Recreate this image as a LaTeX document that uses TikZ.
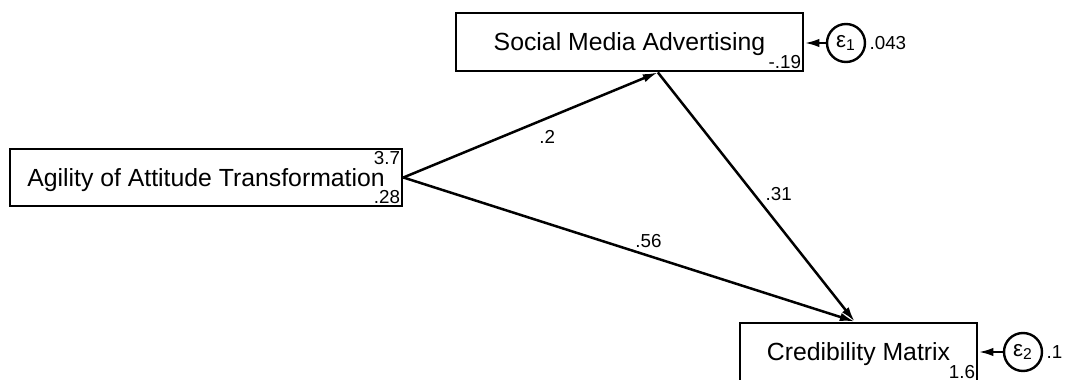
\documentclass[tikz,border=0pt]{standalone}
\usepackage{fontspec}
\setmainfont{Liberation Sans}
\usetikzlibrary{arrows.meta}

\tikzset{
  var/.style={draw, rectangle, line width=1.4pt, inner sep=0pt, minimum height=29pt, text depth=0pt, font=\fontsize{12.4}{14}\selectfont},
  err/.style={draw, circle, line width=1.2pt, inner sep=0pt, minimum size=19pt, font=\fontsize{11.2}{13}\selectfont},
  num/.style={inner sep=1.5pt, font=\fontsize{9.4}{11}\selectfont},
  path/.style={->, line width=1.25pt}
}

\begin{document}
\begin{tikzpicture}[x=0.5pt,y=-0.5pt,>={Latex[length=7.5pt,width=4.2pt]}]
	\useasboundingbox (0,0) rectangle (1078,380);
	% Draw the observed variables
	\node[var, minimum width=196pt, minimum height=28.5pt] (att) at (206,177.5) {Agility of Attitude Transformation};
	\node[var, minimum width=173.5pt] (sma) at (629.5,42) {Social Media Advertising};
	\node[var, minimum width=118.5pt] (cm) at (858.5,352) {Credibility Matrix};
	
	% Draw the error terms
	\node[err] (e1) at (846,43) {ε\textsubscript{1}};
	\node[err] (e2) at (1023,352) {ε\textsubscript{2}};
	
	% Means, intercepts and variances
	\node[num, anchor=north east] (att-mean) at (att.north east) {3.7};
	\node[num, anchor=south east] (att-var) at (att.south east) {.28};
	\node[num, anchor=south east] (sma-cons) at (sma.south east) {-.19};
	\node[num, anchor=south east] (cm-cons) at (cm.south east) {1.6};
	\node[num, anchor=west] (e1-var) at (e1.east) {.043};
	\node[num, anchor=west] (e2-var) at (e2.east) {.1};
	
	% Draw the paths
	\draw[path] (att.east) -- (sma.-47.5) node[num, pos=0.565, below=4pt] (p1) {.2};
	\draw[path] (sma.-47.5) -- (cm.97) node[num, pos=0.49, right=3.5pt] (p2) {.31};
	\draw[path] (att.east) -- (cm.97) node[num, pos=0.543, above=2pt] (p3) {.56};
	
	% Draw the error arrows
	\draw[path] (e1.west) -- (e1.west -| sma.east);
	\draw[path] (e2.west) -- (e2.west -| cm.east);
\end{tikzpicture}
\end{document}
